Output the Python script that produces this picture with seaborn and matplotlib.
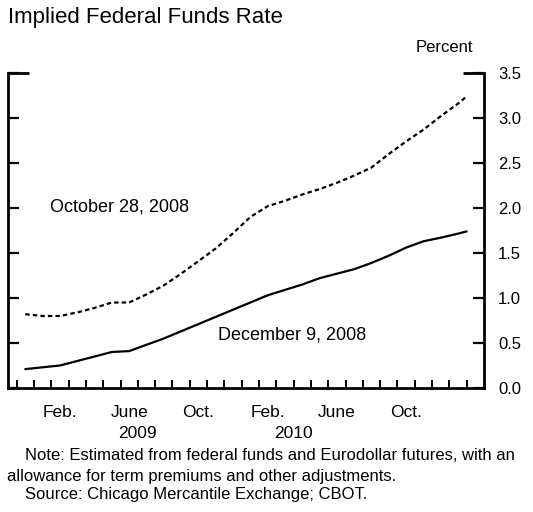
import matplotlib
matplotlib.use("Agg")
import matplotlib.pyplot as plt
import seaborn as sns
import pandas as pd
import numpy as np

# Month offsets: 0 = start of Dec 2008, points sit mid-month
months = [0.5, 1.5, 2.5, 3.5, 4.5, 5.5, 6.5, 7.5, 8.5, 9.5, 10.5, 11.5, 12.5,
          13.5, 14.5, 15.5, 16.5, 17.5, 18.5, 19.5, 20.5, 21.5, 22.5, 23.5,
          24.5, 25.5, 26.0]

oct28 = [0.82, 0.80, 0.80, 0.84, 0.89, 0.95, 0.95, 1.04, 1.14, 1.27, 1.41, 1.55,
         1.72, 1.90, 2.02, 2.08, 2.15, 2.21, 2.28, 2.36, 2.45, 2.60, 2.74, 2.87,
         3.02, 3.16, 3.24]

dec9 = [0.21, 0.23, 0.25, 0.30, 0.35, 0.40, 0.41, 0.48, 0.55, 0.63, 0.71, 0.79,
        0.87, 0.95, 1.03, 1.09, 1.15, 1.22, 1.27, 1.32, 1.39, 1.47, 1.56, 1.63,
        1.67, 1.715, 1.74]

month_labels = ["Feb.", "June", "Oct.", "Feb.", "June", "Oct."]
month_label_pos = [2.5, 6.5, 10.5, 14.5, 18.5, 22.5]
year_labels = ["2009", "2010"]
year_label_pos = [7.0, 16.0]
yticks = [0.0, 0.5, 1.0, 1.5, 2.0, 2.5, 3.0, 3.5]

df = pd.DataFrame({
    "month": months * 2,
    "rate": oct28 + dec9,
    "series": ["October 28, 2008"] * len(months) + ["December 9, 2008"] * len(months),
})

sns.set_theme(style="ticks")
plt.rcParams["font.family"] = ["Liberation Sans", "DejaVu Sans"]

fig = plt.figure(figsize=(5.33, 5.12), dpi=100)
ax = fig.add_axes([8 / 533, 1 - 388 / 512, (484 - 8) / 533, (388 - 73) / 512])

sns.lineplot(data=df, x="month", y="rate", style="series",
             dashes={"October 28, 2008": (2, 1.4), "December 9, 2008": ""},
             color="black", linewidth=1.6, legend=False, ax=ax)

ax.set_xlim(-0.5, 27)
ax.set_ylim(0, 3.5)
ax.set_xlabel("")
ax.set_ylabel("")

for side in ["left", "right", "bottom"]:
    ax.spines[side].set_linewidth(2.0)
    ax.spines[side].set_color("black")
ax.spines["top"].set_visible(False)

# y axis: ticks on both sides, labels on the right
ax.set_yticks(yticks)
ax.set_yticklabels([f"{v:.1f}" for v in yticks])
ax.tick_params(axis="y", which="major", left=True, right=True,
               labelleft=False, labelright=True, direction="in",
               length=8, width=1.6, color="black", pad=10,
               labelsize=12, labelcolor="black")

# x axis: monthly ticks, month names centred between them
ax.set_xticks(np.arange(0, 27))
ax.set_xticklabels([])
ax.tick_params(axis="x", which="major", direction="in", length=6,
               width=1.4, color="black")
ax.set_xticks(month_label_pos, minor=True)
ax.set_xticklabels(month_labels, minor=True)
ax.tick_params(axis="x", which="minor", length=0, pad=12,
               labelsize=12.5, labelcolor="black")

for pos, lab in zip(year_label_pos, year_labels):
    ax.text(pos, -0.143, lab, transform=ax.get_xaxis_transform(),
            ha="center", va="center", fontsize=12.5, color="black")

# longer caps at the top of both vertical axes
ax.plot([0, 0.045], [1, 1], transform=ax.transAxes, color="black",
        linewidth=2.0, clip_on=False, solid_capstyle="butt")
ax.plot([0.955, 1], [1, 1], transform=ax.transAxes, color="black",
        linewidth=2.0, clip_on=False, solid_capstyle="butt")

ax.text(1.93, 2.01, "October 28, 2008", ha="left", va="center",
        fontsize=13, color="black")
ax.text(11.66, 0.59, "December 9, 2008", ha="left", va="center",
        fontsize=13, color="black")

fig.text(8 / 533, 1 - 18 / 512, "Implied Federal Funds Rate",
         ha="left", va="center", fontsize=16, color="black")
fig.text(444 / 533, 1 - 47 / 512, "Percent", ha="center", va="center",
         fontsize=12, color="black")

fig.text(25 / 533, 1 - 455 / 512,
         "Note: Estimated from federal funds and Eurodollar futures, with an",
         ha="left", va="center", fontsize=12, color="black")
fig.text(7 / 533, 1 - 477 / 512,
         "allowance for term premiums and other adjustments.",
         ha="left", va="center", fontsize=12, color="black")
fig.text(25 / 533, 1 - 495 / 512,
         "Source: Chicago Mercantile Exchange; CBOT.",
         ha="left", va="center", fontsize=12, color="black")

fig.savefig("out.png", dpi=100, facecolor="white")
